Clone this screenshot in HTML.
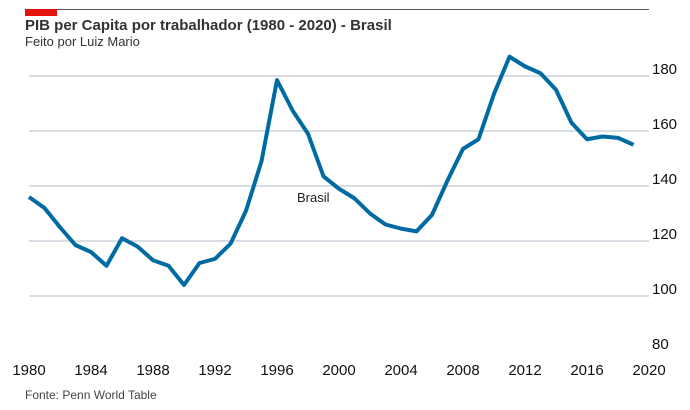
<!DOCTYPE html>
<html><head><meta charset="utf-8"><style>
body{margin:0;background:#fff;font-family:"Liberation Sans",sans-serif;}
svg{display:block}
</style></head><body>
<svg width="690" height="410">
<line x1="25" y1="9.5" x2="649" y2="9.5" stroke="#555" stroke-width="1"/>
<rect x="25" y="9" width="32" height="7" fill="#e3120b"/>
<text x="25" y="30" font-size="15" font-weight="bold" fill="#333">PIB per Capita por trabalhador (1980 - 2020) - Brasil</text>
<text x="25" y="46" font-size="13" fill="#333">Feito por Luiz Mario</text>
<text x="25" y="399" font-size="12" fill="#444">Fonte: Penn World Table</text>
<g id="grid"></g><g id="yt"></g><g id="xt"></g><g id="ln"></g>
<text x="297" y="202" font-size="13" fill="#222">Brasil</text>
</svg>
<script>
const years=[1980,1981,1982,1983,1984,1985,1986,1987,1988,1989,1990,1991,1992,1993,1994,1995,1996,1997,1998,1999,2000,2001,2002,2003,2004,2005,2006,2007,2008,2009,2010,2011,2012,2013,2014,2015,2016,2017,2018,2019];
const values=[136,132,125,118.5,116,111,121,118,113,111,104,112,113.5,119,131,149,178.5,167.5,159,143.5,139,135.5,130,126,124.5,123.5,129.5,142,153.5,157,173.5,187,183.5,181,175,163,157,158,157.5,155];
const yTicks=[80,100,120,140,160,180];
const xTicks=[1980,1984,1988,1992,1996,2000,2004,2008,2012,2016,2020];
const NS="http://www.w3.org/2000/svg";
const xs=v=>29+(v-1980)*15.5, ys=v=>351-(v-80)*2.75;
function mk(t,a,p){const e=document.createElementNS(NS,t);for(const k in a)e.setAttribute(k,a[k]);document.getElementById(p).appendChild(e);return e;}
yTicks.forEach(t=>{
 if(t>80){const g=mk('line',{x1:29,x2:649,y1:ys(t),y2:ys(t),stroke:'#b0bec8','stroke-width':1},'grid');
 
 }
 const l=mk('text',{x:652,y:ys(t)-2,'font-size':15,fill:'#111'},'yt');l.textContent=t;
 
 
});
xTicks.forEach(t=>{
 const l=mk('text',{x:xs(t),y:375,'font-size':15,fill:'#111','text-anchor':'middle'},'xt');l.textContent=t;
 
 
});
const p=mk('path',{d:years.map((y,i)=>(i?'L':'M')+xs(y)+' '+ys(values[i])).join(''),fill:'none',stroke:'#006ba2','stroke-width':4,'stroke-linejoin':'round'},'ln');


</script>
</body></html>
